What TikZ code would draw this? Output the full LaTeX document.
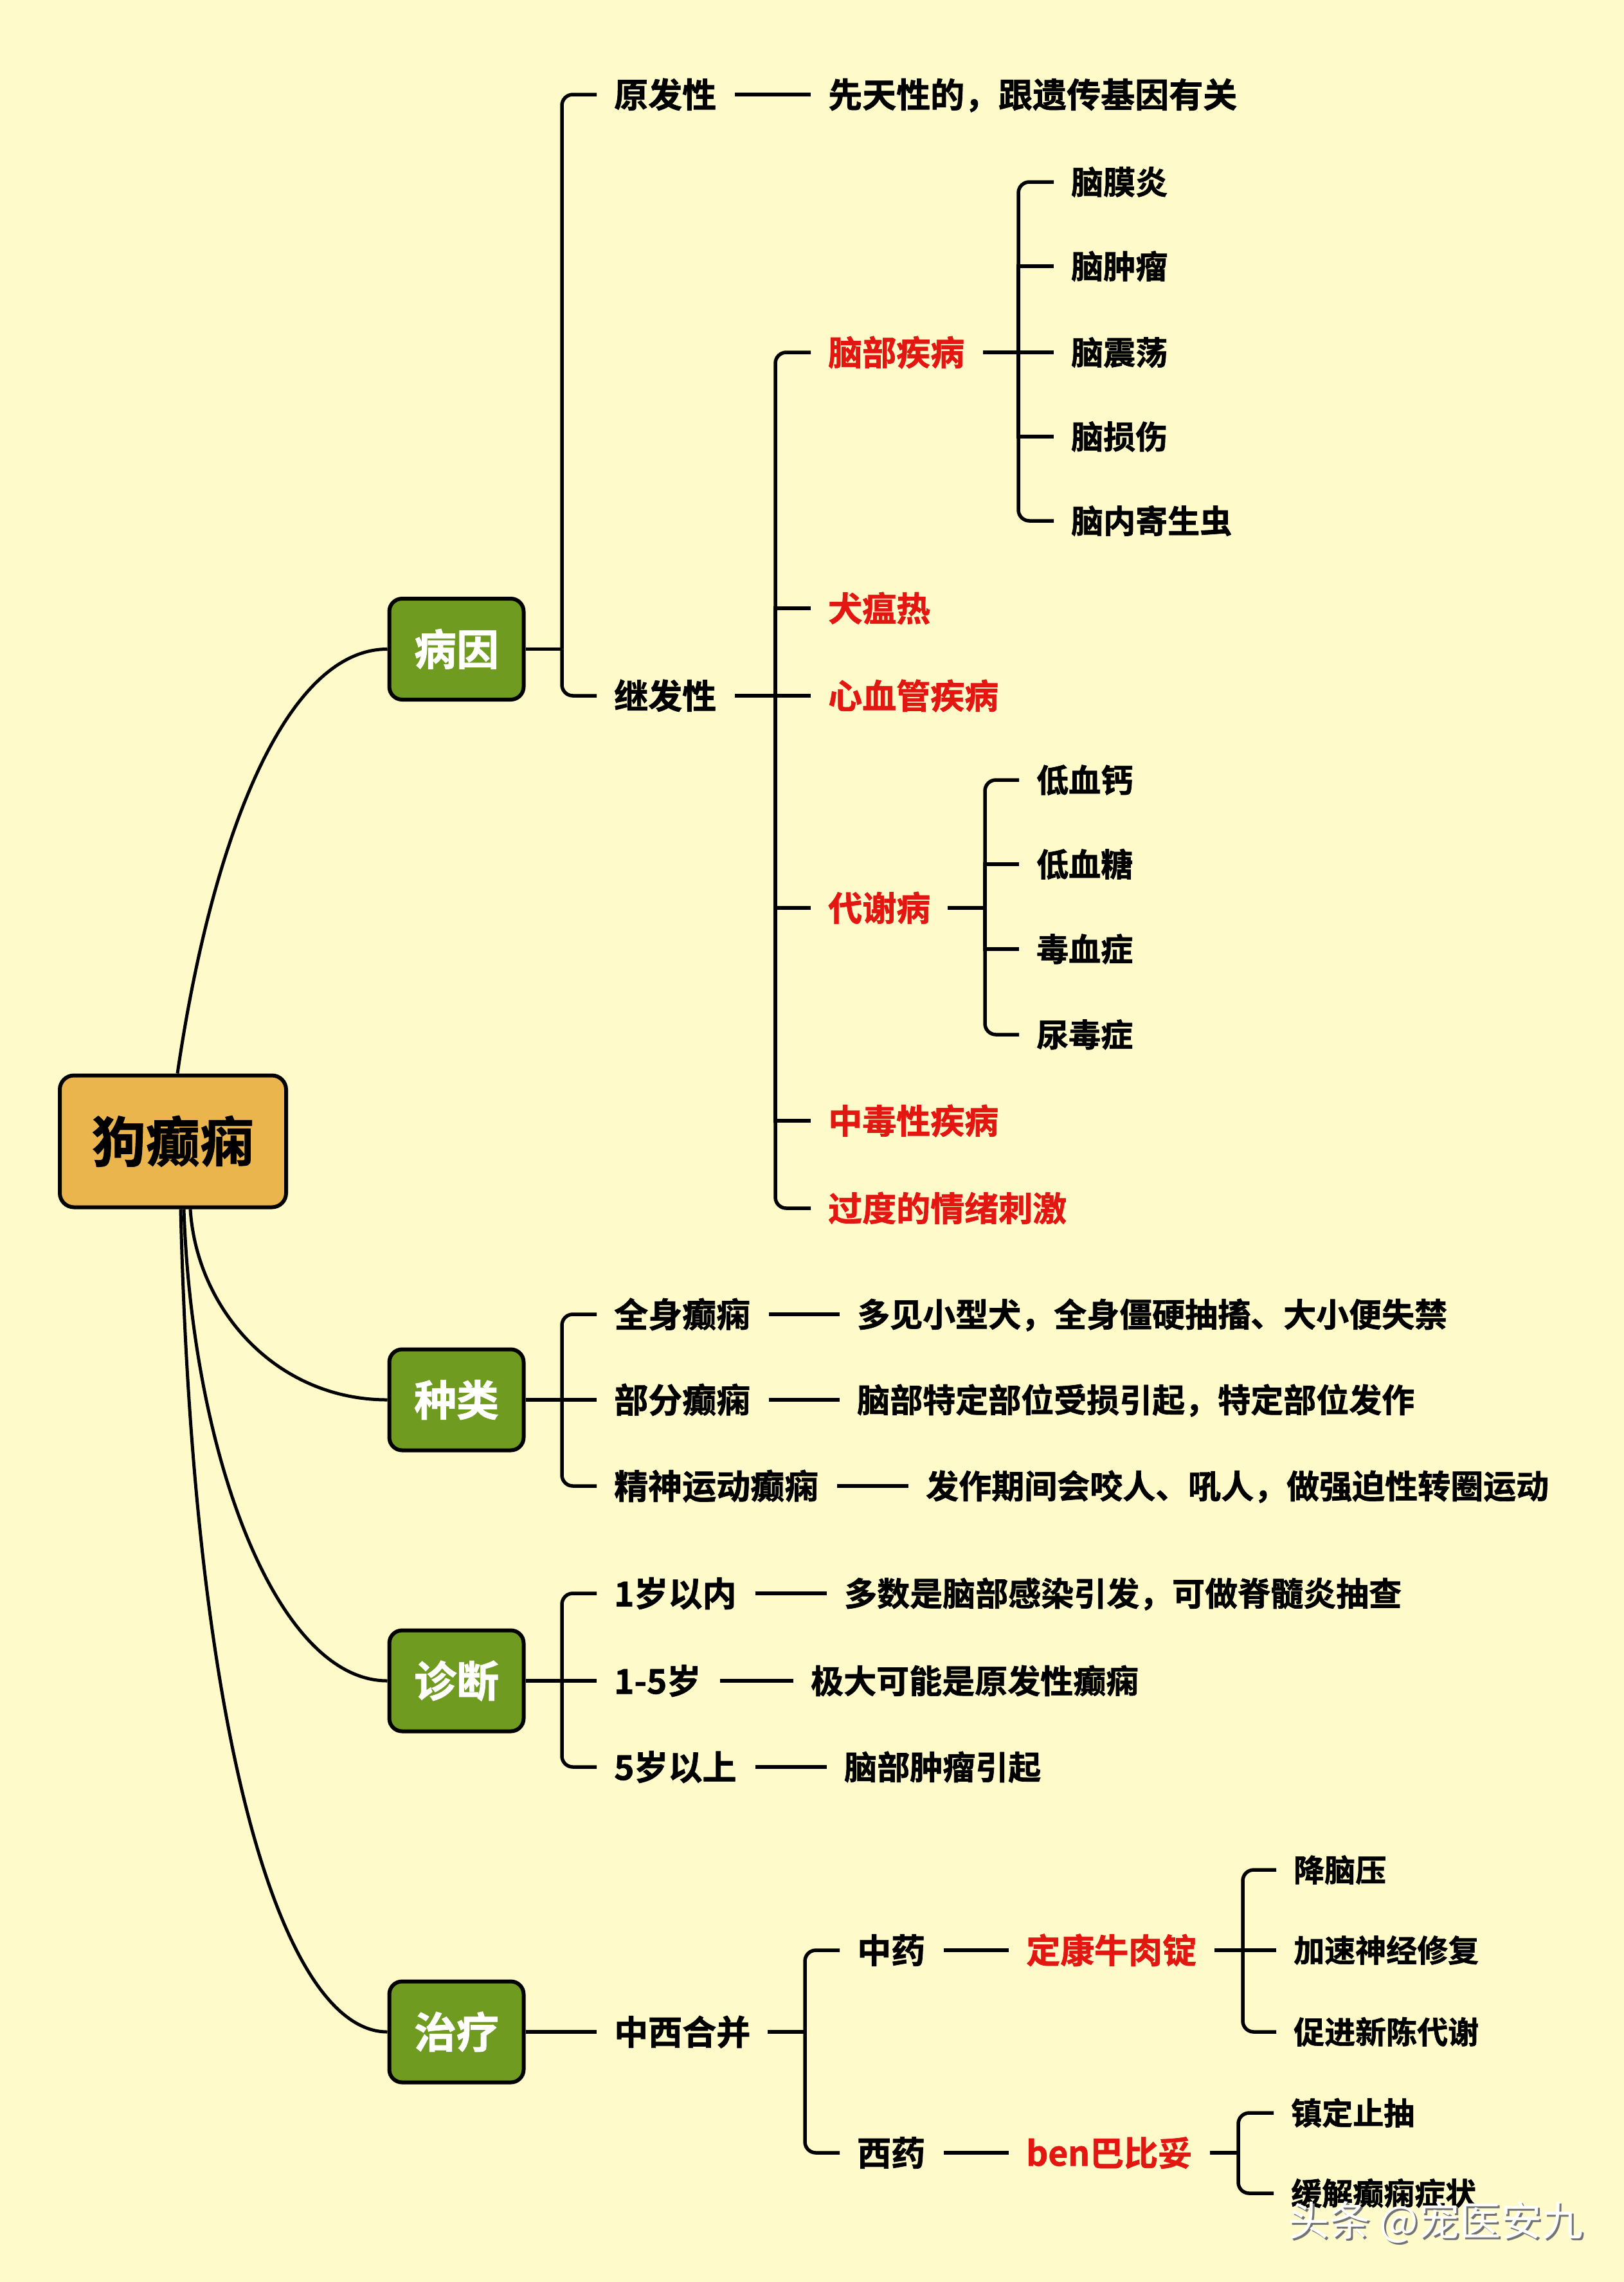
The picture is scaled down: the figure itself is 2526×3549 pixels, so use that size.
\documentclass[tikz,border=0pt]{standalone}
\usepackage{fontspec}
\setmainfont{Noto Sans CJK SC}[BoldFont={Noto Sans CJK SC Bold}, BoldFeatures={FakeBold=1.3}]
\definecolor{bgc}{RGB}{255,250,202}
\definecolor{greenc}{RGB}{111,155,32}
\definecolor{orangec}{RGB}{233,181,76}
\definecolor{redc}{RGB}{228,22,18}
\tikzset{
  fs/.style={font=\bfseries\fontsize{#1pt}{#1pt}\selectfont, text height=0.88*#1pt, text depth=0.12*#1pt},
  lbl/.style={anchor=west, inner sep=0pt, fs=53},
  redlbl/.style={lbl, text=redc},
  detail/.style={anchor=west, inner sep=0pt, fs=51},
  leaf/.style={anchor=west, inner sep=0pt, fs=50},
  tleaf/.style={anchor=west, inner sep=0pt, fs=48},
  gbox/.style={draw=black, line width=6pt, rounded corners=20pt, fill=greenc, text=white,
    minimum width=209pt, minimum height=157pt, inner sep=0pt, fs=66},
  rootbox/.style={draw=black, line width=6pt, rounded corners=22pt, fill=orangec, text=black,
    minimum width=352pt, minimum height=205pt, inner sep=0pt, fs=84},
  conn/.style={line width=5.5pt, black},
  rconn/.style={conn, rounded corners=17pt},
  curve/.style={line width=5pt, black},
}
\begin{document}
\begin{tikzpicture}[x=1pt,y=-1pt]
\fill[bgc] (0,0) rectangle (2526,3549);
\useasboundingbox (0,0) rectangle (2526,3549);

% root and main boxes
\node[rootbox] (root) at (269,1775) {狗癫痫};
\node[gbox] (by) at (710,1009.5) {病因};
\node[gbox] (zl) at (710,2177) {种类};
\node[gbox] (zd) at (710,2614) {诊断};
\node[gbox] (zt) at (710,3160) {治疗};

\draw[curve] ([xshift=7pt]root.north) .. controls (328,1313) and (441,1009.5) .. (by.west);
\draw[curve] ([xshift=27pt]root.south) .. controls (306,2037) and (430,2177) .. (zl.west);
\draw[curve] ([xshift=17pt]root.south) .. controls (299,2263) and (430,2614) .. (zd.west);
\draw[curve] ([xshift=12pt]root.south) .. controls (301,2716) and (441,3160) .. (zt.west);

% ---------- 病因 ----------
\node[lbl] (yfx) at (955,147) {原发性};
\node[lbl] (jfx) at (955,1082) {继发性};
\node[lbl] (yfxd) at (1288,147) {先天性的，跟遗传基因有关};
\coordinate (jby) at (874,1009.5);
\draw[conn] (by.east) -- (jby);
\draw[rconn] (jby) |- ([xshift=-27pt]yfx.west);
\draw[rconn] (jby) |- ([xshift=-27pt]jfx.west);
\draw[conn] ([xshift=29pt]yfx.east) -- ([xshift=-27pt]yfxd.west);

% 继发性 children
\node[redlbl] (nb) at (1288,548) {脑部疾病};
\node[redlbl] (qwr) at (1288,946) {犬瘟热};
\node[redlbl] (xxg) at (1288,1082) {心血管疾病};
\node[redlbl] (dx) at (1288,1412) {代谢病};
\node[redlbl] (zdx) at (1288,1743) {中毒性疾病};
\node[redlbl] (gd) at (1288,1879) {过度的情绪刺激};
\coordinate (jjf) at (1206,1082);
\draw[conn] ([xshift=29pt]jfx.east) -- (jjf);
\draw[rconn] (jjf) |- ([xshift=-27pt]nb.west);
\draw[rconn] (jjf) |- ([xshift=-27pt]gd.west);
\foreach \c in {qwr,xxg,dx,zdx} \draw[conn] (jjf) |- ([xshift=-27pt]\c.west);

% 脑部疾病 children
\node[leaf] (nm) at (1666,283) {脑膜炎};
\node[leaf] (nz) at (1666,414) {脑肿瘤};
\node[leaf] (nzd) at (1666,548) {脑震荡};
\node[leaf] (ns) at (1666,679) {脑损伤};
\node[leaf] (nn) at (1666,810) {脑内寄生虫};
\coordinate (jnb) at (1584,548);
\draw[conn] ([xshift=29pt]nb.east) -- (jnb);
\draw[rconn] (jnb) |- ([xshift=-27pt]nm.west);
\draw[rconn] (jnb) |- ([xshift=-27pt]nn.west);
\foreach \c in {nz,nzd,ns} \draw[conn] (jnb) |- ([xshift=-27pt]\c.west);

% 代谢病 children
\node[leaf] (dxg) at (1612,1213) {低血钙};
\node[leaf] (dxt) at (1612,1344) {低血糖};
\node[leaf] (dxz) at (1612,1476) {毒血症};
\node[leaf] (ndz) at (1612,1609) {尿毒症};
\coordinate (jdx) at (1532,1412);
\draw[conn] ([xshift=27pt]dx.east) -- (jdx);
\draw[rconn] (jdx) |- ([xshift=-27pt]dxg.west);
\draw[rconn] (jdx) |- ([xshift=-27pt]ndz.west);
\foreach \c in {dxt,dxz} \draw[conn] (jdx) |- ([xshift=-27pt]\c.west);

% ---------- 种类 ----------
\node[lbl] (qs) at (955,2044) {全身癫痫};
\node[lbl] (bf) at (955,2177) {部分癫痫};
\node[lbl] (js) at (955,2311) {精神运动癫痫};
\node[detail] (qsd) at (1333,2044) {多见小型犬，全身僵硬抽搐、大小便失禁};
\node[detail] (bfd) at (1333,2177) {脑部特定部位受损引起，特定部位发作};
\node[detail] (jsd) at (1440,2311) {发作期间会咬人、吼人，做强迫性转圈运动};
\coordinate (jzl) at (874,2177);
\draw[conn] (zl.east) -- (jzl);
\draw[rconn] (jzl) |- ([xshift=-27pt]qs.west);
\draw[rconn] (jzl) |- ([xshift=-27pt]js.west);
\draw[conn] (jzl) -- ([xshift=-27pt]bf.west);
\draw[conn] ([xshift=29pt]qs.east) -- ([xshift=-27pt]qsd.west);
\draw[conn] ([xshift=29pt]bf.east) -- ([xshift=-27pt]bfd.west);
\draw[conn] ([xshift=29pt]js.east) -- ([xshift=-27pt]jsd.west);

% ---------- 诊断 ----------
\node[lbl] (a1) at (955,2478) {1岁以内};
\node[lbl] (a2) at (955,2614) {1-5岁};
\node[lbl] (a3) at (955,2748) {5岁以上};
\node[detail] (a1d) at (1313,2478) {多数是脑部感染引发，可做脊髓炎抽查};
\node[detail] (a2d) at (1261,2614) {极大可能是原发性癫痫};
\node[detail] (a3d) at (1313,2748) {脑部肿瘤引起};
\coordinate (jzd) at (874,2614);
\draw[conn] (zd.east) -- (jzd);
\draw[rconn] (jzd) |- ([xshift=-27pt]a1.west);
\draw[rconn] (jzd) |- ([xshift=-27pt]a3.west);
\draw[conn] (jzd) -- ([xshift=-27pt]a2.west);
\draw[conn] ([xshift=29pt]a1.east) -- ([xshift=-27pt]a1d.west);
\draw[conn] ([xshift=29pt]a2.east) -- ([xshift=-27pt]a2d.west);
\draw[conn] ([xshift=29pt]a3.east) -- ([xshift=-27pt]a3d.west);

% ---------- 治疗 ----------
\node[lbl] (zx) at (955,3160) {中西合并};
\draw[conn] (zt.east) -- ([xshift=-27pt]zx.west);
\node[lbl] (zy) at (1333,3033) {中药};
\node[lbl] (xy) at (1333,3348) {西药};
\coordinate (jzx) at (1252,3160);
\draw[conn] ([xshift=27pt]zx.east) -- (jzx);
\draw[rconn] (jzx) |- ([xshift=-27pt]zy.west);
\draw[rconn] (jzx) |- ([xshift=-27pt]xy.west);
\node[redlbl] (dk) at (1596,3033) {定康牛肉锭};
\node[redlbl] (bb) at (1596,3348) {ben巴比妥};
\draw[conn] ([xshift=29pt]zy.east) -- ([xshift=-27pt]dk.west);
\draw[conn] ([xshift=29pt]xy.east) -- ([xshift=-27pt]bb.west);

\node[tleaf] (t1) at (2012,2908) {降脑压};
\node[tleaf] (t2) at (2012,3033) {加速神经修复};
\node[tleaf] (t3) at (2012,3160) {促进新陈代谢};
\coordinate (jdk) at (1933,3033);
\draw[conn] ([xshift=28pt]dk.east) -- (jdk);
\draw[rconn] (jdk) |- ([xshift=-27pt]t1.west);
\draw[rconn] (jdk) |- ([xshift=-27pt]t3.west);
\draw[conn] (jdk) -- ([xshift=-27pt]t2.west);

\node[tleaf] (t4) at (2008,3286) {镇定止抽};
\node[tleaf] (t5) at (2008,3411) {缓解癫痫症状};
\coordinate (jbb) at (1926,3348);
\draw[conn] ([xshift=28pt]bb.east) -- (jbb);
\draw[rconn] (jbb) |- ([xshift=-27pt]t4.west);
\draw[rconn] (jbb) |- ([xshift=-27pt]t5.west);

% watermark
\node[anchor=west, inner sep=0pt, text=black!55, font=\mdseries\fontsize{64pt}{64pt}\selectfont] (wms) at (2006,3459) {头条 @宠医安九};
\node[anchor=west, inner sep=0pt, text=white, font=\mdseries\fontsize{64pt}{64pt}\selectfont] (wm) at (2003,3456) {头条 @宠医安九};
\end{tikzpicture}
\end{document}
